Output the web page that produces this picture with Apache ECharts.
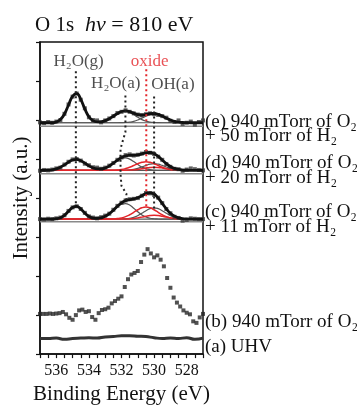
<!DOCTYPE html>
<html>
<head>
<meta charset="utf-8">
<title>O 1s</title>
<script src="https://cdn.jsdelivr.net/npm/echarts@6/dist/echarts.min.js"></script>
<style>
  html, body { margin: 0; padding: 0; background: #fff; }
  #chart { width: 357px; height: 410px; }
</style>
</head>
<body>
<div id="chart"></div>
<script>
// binding energy grid of the fitted spectra (eV)
const energy = [
  537, 536.75, 536.5, 536.25, 536, 535.75, 535.5, 535.25, 535, 534.75,
  534.5, 534.25, 534, 533.75, 533.5, 533.25, 533, 532.75, 532.5, 532.25,
  532, 531.75, 531.5, 531.25, 531, 530.75, 530.5, 530.25, 530, 529.75,
  529.5, 529.25, 529, 528.75, 528.5, 528.25, 528, 527.75, 527.5, 527.25,
  527
];

// stack offsets of the fitted panels (intensity units)
const offsetE = 5.93;
const offsetD = 4.71;
const offsetC = 3.46;
// grey reference line under each fitted panel
const refLines = [5.84, 4.62, 3.39];

// (e) 940 mTorr O2 + 50 mTorr H2
const gasE = [
  0, 0, 0, 0, 0.02, 0.08, 0.22, 0.46, 0.68, 0.75,
  0.60, 0.36, 0.15, 0.05, 0.01, 0, 0, 0, 0, 0,
  0, 0, 0, 0, 0, 0, 0, 0, 0, 0,
  0, 0, 0, 0, 0, 0, 0, 0, 0, 0,
  0
];
const adsE = [
  0, 0, 0, 0, 0, 0, 0, 0, 0, 0,
  0, 0, 0, 0.003, 0.01, 0.025, 0.055, 0.103, 0.168, 0.236,
  0.286, 0.299, 0.27, 0.21, 0.141, 0.081, 0.041, 0.017, 0.007, 0.002,
  0, 0, 0, 0, 0, 0, 0, 0, 0, 0,
  0
];
const ohE = [
  0, 0, 0, 0, 0, 0, 0, 0, 0, 0,
  0, 0, 0, 0, 0, 0, 0, 0, 0, 0,
  0.002, 0.006, 0.016, 0.036, 0.07, 0.118, 0.171, 0.214, 0.23, 0.214,
  0.171, 0.118, 0.07, 0.036, 0.016, 0.006, 0.002, 0, 0, 0,
  0
];
const fitE = [
  0, 0, 0, 0, 0.022, 0.081, 0.224, 0.455, 0.68, 0.746,
  0.601, 0.356, 0.155, 0.053, 0.021, 0.025, 0.055, 0.103, 0.168, 0.236,
  0.288, 0.305, 0.286, 0.246, 0.211, 0.199, 0.212, 0.231, 0.237, 0.216,
  0.171, 0.118, 0.07, 0.036, 0.016, 0.006, 0.002, 0, 0, 0,
  0
];
const dataE = [
  0.01, -0.01, 0.02, 0, 0.03, 0.07, 0.23, 0.47, 0.67, 0.75,
  0.59, 0.37, 0.14, 0.07, 0.06, 0.01, 0.06, 0.11, 0.17, 0.25,
  0.28, 0.32, 0.28, 0.24, 0.21, 0.19, 0.22, 0.24, 0.22, 0.20,
  0.17, 0.13, 0.05, 0.02, 0.06, -0.03, 0, 0.03, -0.05, 0.02,
  0.06
];

// (d) 940 mTorr O2 + 20 mTorr H2
const gasD = [
  0, 0.001, 0.005, 0.015, 0.038, 0.08, 0.142, 0.211, 0.265, 0.279,
  0.247, 0.184, 0.115, 0.06, 0.027, 0.01, 0.003, 0, 0, 0,
  0, 0, 0, 0, 0, 0, 0, 0, 0, 0,
  0, 0, 0, 0, 0, 0, 0, 0, 0, 0,
  0
];
const adsD = [
  0, 0, 0, 0, 0, 0, 0, 0, 0, 0,
  0, 0, 0.001, 0.004, 0.011, 0.027, 0.058, 0.11, 0.179, 0.252,
  0.305, 0.319, 0.288, 0.224, 0.15, 0.087, 0.043, 0.019, 0.007, 0.002,
  0, 0, 0, 0, 0, 0, 0, 0, 0, 0,
  0
];
const oxD = [
  0, 0, 0, 0, 0, 0, 0, 0, 0, 0,
  0, 0, 0, 0, 0, 0, 0, 0.001, 0.004, 0.01,
  0.022, 0.045, 0.079, 0.124, 0.171, 0.206, 0.22, 0.206, 0.171, 0.124,
  0.079, 0.045, 0.022, 0.01, 0.004, 0.001, 0, 0, 0, 0,
  0
];
const ohD = [
  0, 0, 0, 0, 0, 0, 0, 0, 0, 0,
  0, 0, 0, 0, 0, 0, 0, 0, 0, 0,
  0.002, 0.005, 0.012, 0.027, 0.052, 0.087, 0.126, 0.158, 0.17, 0.158,
  0.126, 0.087, 0.052, 0.027, 0.012, 0.005, 0.002, 0, 0, 0,
  0
];
const ox2D = [
  0, 0, 0, 0, 0, 0, 0, 0, 0, 0,
  0, 0, 0, 0, 0, 0, 0, 0, 0, 0,
  0, 0.002, 0.006, 0.013, 0.024, 0.041, 0.06, 0.074, 0.08, 0.074,
  0.06, 0.041, 0.024, 0.013, 0.006, 0.002, 0, 0, 0, 0,
  0
];
const fitD = [
  0, 0.001, 0.005, 0.015, 0.038, 0.08, 0.142, 0.211, 0.265, 0.279,
  0.247, 0.184, 0.116, 0.064, 0.038, 0.037, 0.061, 0.111, 0.183, 0.262,
  0.329, 0.371, 0.385, 0.388, 0.397, 0.421, 0.449, 0.457, 0.428, 0.358,
  0.265, 0.173, 0.098, 0.05, 0.022, 0.008, 0.002, 0, 0, 0,
  0
];
const dataD = [
  -0.01, 0.01, 0, 0.02, 0.05, 0.07, 0.15, 0.22, 0.28, 0.29,
  0.25, 0.17, 0.13, 0.08, 0.07, 0.04, 0.07, 0.12, 0.19, 0.27,
  0.33, 0.39, 0.41, 0.38, 0.40, 0.43, 0.47, 0.45, 0.42, 0.35,
  0.27, 0.16, 0.09, 0.04, 0.03, -0.01, 0.02, 0.05, 0.03, 0.01,
  0
];

// (c) 940 mTorr O2 + 11 mTorr H2
const gasC = [
  0, 0, 0, 0.002, 0.01, 0.036, 0.098, 0.2, 0.299, 0.328,
  0.264, 0.156, 0.068, 0.022, 0.005, 0.001, 0, 0, 0, 0,
  0, 0, 0, 0, 0, 0, 0, 0, 0, 0,
  0, 0, 0, 0, 0, 0, 0, 0, 0, 0,
  0
];
const adsC = [
  0, 0, 0, 0, 0, 0, 0, 0, 0, 0,
  0, 0, 0.001, 0.004, 0.013, 0.033, 0.073, 0.138, 0.224, 0.315,
  0.382, 0.399, 0.36, 0.28, 0.188, 0.108, 0.054, 0.023, 0.009, 0.003,
  0.001, 0, 0, 0, 0, 0, 0, 0, 0, 0,
  0
];
const oxC = [
  0, 0, 0, 0, 0, 0, 0, 0, 0, 0,
  0, 0, 0, 0, 0, 0, 0.001, 0.002, 0.005, 0.014,
  0.031, 0.063, 0.112, 0.175, 0.24, 0.291, 0.31, 0.291, 0.24, 0.175,
  0.112, 0.063, 0.031, 0.014, 0.005, 0.002, 0.001, 0, 0, 0,
  0
];
const ohC = [
  0, 0, 0, 0, 0, 0, 0, 0, 0, 0,
  0, 0, 0, 0, 0, 0, 0, 0, 0, 0.001,
  0.003, 0.008, 0.02, 0.046, 0.089, 0.149, 0.216, 0.269, 0.29, 0.269,
  0.216, 0.149, 0.089, 0.046, 0.02, 0.008, 0.003, 0.001, 0, 0,
  0
];
const ox2C = [
  0, 0, 0, 0, 0, 0, 0, 0, 0, 0,
  0, 0, 0, 0, 0, 0, 0, 0, 0, 0,
  0, 0.003, 0.007, 0.016, 0.031, 0.051, 0.074, 0.093, 0.1, 0.093,
  0.074, 0.051, 0.031, 0.016, 0.007, 0.003, 0, 0, 0, 0,
  0
];
const fitC = [
  0, 0, 0, 0.002, 0.01, 0.036, 0.098, 0.2, 0.299, 0.328,
  0.264, 0.156, 0.069, 0.026, 0.018, 0.034, 0.074, 0.14, 0.229, 0.33,
  0.416, 0.473, 0.499, 0.517, 0.548, 0.599, 0.654, 0.676, 0.639, 0.54,
  0.403, 0.263, 0.151, 0.076, 0.032, 0.013, 0.004, 0.001, 0, 0,
  0
];
const dataC = [
  0, -0.01, 0.01, 0, 0.02, 0.04, 0.10, 0.21, 0.30, 0.33,
  0.26, 0.16, 0.07, 0.04, 0.02, 0.05, 0.09, 0.14, 0.24, 0.34,
  0.42, 0.48, 0.51, 0.52, 0.54, 0.60, 0.67, 0.66, 0.62, 0.55,
  0.41, 0.26, 0.15, 0.06, 0.03, -0.04, -0.02, 0.02, 0.01, 0,
  0
];

// (b) 940 mTorr O2, raw points
const energyB = [
  537, 536.8, 536.6, 536.4, 536.2, 536, 535.8, 535.6, 535.4, 535.2,
  535, 534.8, 534.6, 534.4, 534.2, 534, 533.8, 533.6, 533.4, 533.2,
  533, 532.8, 532.6, 532.4, 532.2, 532, 531.8, 531.6, 531.4, 531.2,
  531, 530.8, 530.6, 530.4, 530.2, 530, 529.8, 529.6, 529.4, 529.2,
  529, 528.8, 528.6, 528.4, 528.2, 528, 527.8, 527.6, 527.4, 527.2,
  527
];
const countsB = [
  1.03, 1.03, 1.03, 1.04, 1.03, 1.04, 1.05, 1.08, 1.02, 0.93,
  0.88, 1.00, 1.12, 1.14, 1.08, 1.10, 0.95, 0.88, 1.05, 1.13,
  1.15, 1.19, 1.30, 1.36, 1.42, 1.48, 1.72, 1.92, 2.04, 2.08,
  2.13, 2.36, 2.55, 2.69, 2.58, 2.48, 2.53, 2.42, 2.25, 1.95,
  1.70, 1.45, 1.32, 1.22, 1.12, 1.06, 1.02, 0.84, 0.80, 0.94,
  1.03
];

// (a) UHV
const energyA = [
  537, 536.5, 536, 535.5, 535, 534.5, 534, 533.5, 533, 532.5,
  532, 531.5, 531, 530.5, 530, 529.5, 529, 528.5, 528, 527.5, 527
];
const countsA = [
  0.40, 0.40, 0.41, 0.38, 0.40, 0.41, 0.42, 0.41, 0.44, 0.45,
  0.47, 0.47, 0.46, 0.45, 0.42, 0.40, 0.41, 0.40, 0.42, 0.38, 0.41
];

// peak guide lines (eV, intensity)
const guideGas = [[534.8, 7.25], [534.8, 3.82]];
const guideAds = [[531.76, 6.63], [531.76, 5.69], [531.94, 5.44], [532.06, 5.26],
  [532.06, 4.61], [532.0, 4.31], [531.7, 4.11], [531.7, 3.87]];
const guideOx = [[530.48, 7.3], [530.48, 3.75]];
const guideOh = [[530.0, 6.6], [530.0, 3.69]];

const peakNames = ['H₂O(g)', 'oxide', 'H₂O(a)', 'OH(a)'];
const peakNamePos = [[534.63, 7.51], [530.27, 7.51], [532.35, 6.93], [528.85, 6.9]];

const FONT = 'Liberation Serif';

function shifted(xs, ys, off) {
  return xs.map((x, i) => [x, ys[i] + off]);
}
function plain(xs, ys) {
  return xs.map((x, i) => [x, ys[i]]);
}

function comp(data, color, width) {
  return {
    type: 'line', data: data, smooth: true, showSymbol: false, silent: true,
    lineStyle: { color: color, width: width }, z: 3
  };
}
function fit(data) {
  return {
    type: 'line', data: data, smooth: true, showSymbol: false, silent: true,
    lineStyle: { color: '#111', width: 2.8 }, z: 6
  };
}
function points(data, size, color) {
  return {
    type: 'scatter', data: data, symbol: 'rect', symbolSize: size, silent: true,
    itemStyle: { color: color }, z: 5
  };
}
function guide(data, color) {
  return {
    type: 'line', data: data, showSymbol: false, silent: true,
    lineStyle: { color: color, width: 2, type: [2, 3] }, z: 8
  };
}

const series = [];
refLines.forEach(y => {
  series.push({
    type: 'line', data: [[527, y], [537, y]], showSymbol: false, silent: true,
    lineStyle: { color: '#8a8a8a', width: 1.5 }, z: 2
  });
});
const grey = '#555';
const red = '#e3262b';
// (e)
series.push(comp(shifted(energy, gasE, offsetE), grey, 1.2));
series.push(comp(shifted(energy, adsE, offsetE), grey, 1.2));
series.push(comp(shifted(energy, ohE, offsetE), grey, 1.2));
series.push(points(shifted(energy, dataE, offsetE), 4, '#3a3a3a'));
series.push(fit(shifted(energy, fitE, offsetE)));
// (d)
series.push(comp(shifted(energy, gasD, offsetD), grey, 1.2));
series.push(comp(shifted(energy, adsD, offsetD), grey, 1.2));
series.push(comp(shifted(energy, ohD, offsetD), grey, 1.2));
series.push(comp(shifted(energy, oxD, offsetD), red, 1.5));
series.push(comp(shifted(energy, ox2D, offsetD), red, 1.5));
series.push(points(shifted(energy, dataD, offsetD), 4, '#3a3a3a'));
series.push(fit(shifted(energy, fitD, offsetD)));
// (c)
series.push(comp(shifted(energy, gasC, offsetC), grey, 1.2));
series.push(comp(shifted(energy, adsC, offsetC), grey, 1.2));
series.push(comp(shifted(energy, ohC, offsetC), grey, 1.2));
series.push(comp(shifted(energy, oxC, offsetC), red, 1.5));
series.push(comp(shifted(energy, ox2C, offsetC), red, 1.5));
series.push(points(shifted(energy, dataC, offsetC), 4, '#3a3a3a'));
series.push(fit(shifted(energy, fitC, offsetC)));
// (b)
series.push(points(plain(energyB, countsB), 4, '#262626'));
// (a)
series.push({
  type: 'line', data: plain(energyA, countsA), smooth: true, showSymbol: false, silent: true,
  lineStyle: { color: '#333', width: 3 }, z: 5
});
// guides
series.push(guide(guideGas, '#222'));
series.push(guide(guideAds, '#222'));
series.push(guide(guideOh, '#222'));
series.push(guide(guideOx, '#e3262b'));
// peak names
series.push({
  type: 'scatter', silent: true, symbolSize: 0, z: 9,
  data: peakNamePos.map((p, i) => ({ value: p, name: peakNames[i] })),
  label: {
    show: true, position: 'inside', formatter: p => p.name,
    fontFamily: FONT, fontSize: 17, color: '#222'
  }
});
series[series.length - 1].data[1].label = { color: '#e3262b' };

const rightLabels = [
  ['(e) 940 mTorr of O₂', 122], ['+ 50 mTorr of H₂', 136],
  ['(d) 940 mTorr of O₂', 163], ['+ 20 mTorr of H₂', 178],
  ['(c) 940 mTorr of O₂', 212], ['+ 11 mTorr of H₂', 227],
  ['(b) 940 mTorr of O₂', 322], ['(a) UHV', 347]
];

const chart = echarts.init(document.getElementById('chart'));
chart.setOption({
  animation: false,
  backgroundColor: '#fff',
  grid: { left: 40, right: 154, top: 42, bottom: 47, show: true, borderColor: '#111', borderWidth: 1.5 },
  xAxis: {
    type: 'value', min: 527, max: 537, interval: 0.5, inverse: true,
    name: 'Binding Energy (eV)', nameLocation: 'middle', nameGap: 28,
    nameTextStyle: { fontFamily: FONT, fontSize: 21, color: '#111' },
    axisLine: { lineStyle: { color: '#111', width: 1.5 } },
    axisTick: { length: 4, lineStyle: { color: '#111', width: 1.2 } },
    axisLabel: {
      fontFamily: FONT, fontSize: 16, color: '#111', margin: 9,
      formatter: v => (v % 2 === 0 ? String(v) : '')
    },
    splitLine: { show: false }
  },
  yAxis: {
    type: 'value', min: 0, max: 8, interval: 1,
    name: 'Intensity (a.u.)', nameLocation: 'middle', nameGap: 8,
    nameTextStyle: { fontFamily: FONT, fontSize: 21, color: '#111' },
    axisLine: { show: true, lineStyle: { color: '#111', width: 1.5 } },
    axisTick: { show: true, length: 4, lineStyle: { color: '#111', width: 1.2 } },
    axisLabel: { show: false },
    splitLine: { show: false }
  },
  graphic: [
    { type: 'text', x: 35, y: 25, style: { text: 'O 1s', font: '21px "Liberation Serif"', fill: '#111', verticalAlign: 'middle' } },
    { type: 'text', x: 85, y: 25, style: {
      text: '{i|hν} = 810 eV', font: '22px "Liberation Serif"', fill: '#111', verticalAlign: 'middle',
      rich: { i: { fontStyle: 'italic', fontFamily: FONT, fontSize: 22 } }
    } }
  ].concat(rightLabels.map(r => ({
    type: 'text', x: 205, y: r[1],
    style: { text: r[0], font: '19px "Liberation Serif"', fill: '#111', verticalAlign: 'middle' }
  }))),
  series: series
});
</script>
</body>
</html>
